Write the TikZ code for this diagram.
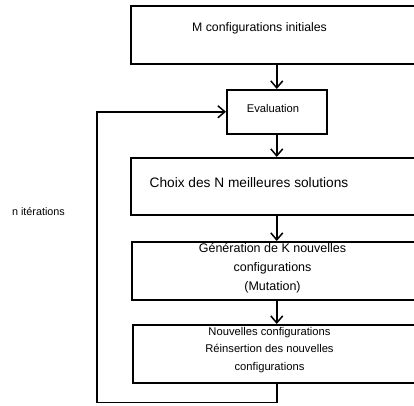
\documentclass[tikz,border=0pt]{standalone}
\usepackage{fontspec}
\setmainfont{Liberation Sans}
\usetikzlibrary{arrows.meta}

\begin{document}
\begin{tikzpicture}[x=1pt,y=-1pt,->,>={Straight Barb[length=7pt,width=12pt]},
  line width=1.5pt,
  box/.style={draw,rectangle,anchor=north west,inner sep=0pt,minimum width=320},
  txt/.style={inner sep=0pt,align=center}]
  \useasboundingbox (0,0) rectangle (414,405);
  % boxes (cut on the right by the page)
  \node[box,minimum height=58] (1) at (130,5) {};
  \node[box,minimum width=100,minimum height=44] (2) at (226,89) {};
  \node[box,minimum height=57] (3) at (130,157) {};
  \node[box,minimum height=58] (4) at (131,241) {};
  \node[box,minimum height=58] (5) at (132,324) {};
  % texts
  \node[txt,font=\fontsize{12.3}{15}\selectfont] (t1) at (259.5,28) {M configurations initiales};
  \node[txt,font=\fontsize{11.2}{14}\selectfont] (t2) at (273,108) {Evaluation};
  \node[txt,font=\fontsize{13.7}{16}\selectfont] (t3) at (249,183) {Choix des N meilleures solutions};
  \node[txt,font=\fontsize{12.5}{19}\selectfont] (t4) at (272.5,268)
    {Génération de K nouvelles\\configurations\\(Mutation)};
  \node[txt,font=\fontsize{11.2}{17.3}\selectfont] (t5) at (269.5,350)
    {Nouvelles configurations\\Réinsertion des nouvelles\\configurations};
  \node[txt,font=\fontsize{10.8}{13}\selectfont] (n) at (38.5,212) {n itérations};
  \coordinate (back) at (97,402.5);
  \draw (1.south -| 2.north) -- (2.north);
  \draw (2.south) -- (2.south |- 3.north);
  \draw (3.south -| 2.south) -- (4.north -| 2.south);
  \draw (4.south -| 2.south) -- (5.north -| 2.south);
  \draw (5.south -| 2.south) |- (back) |- (2.west);
\end{tikzpicture}
\end{document}
